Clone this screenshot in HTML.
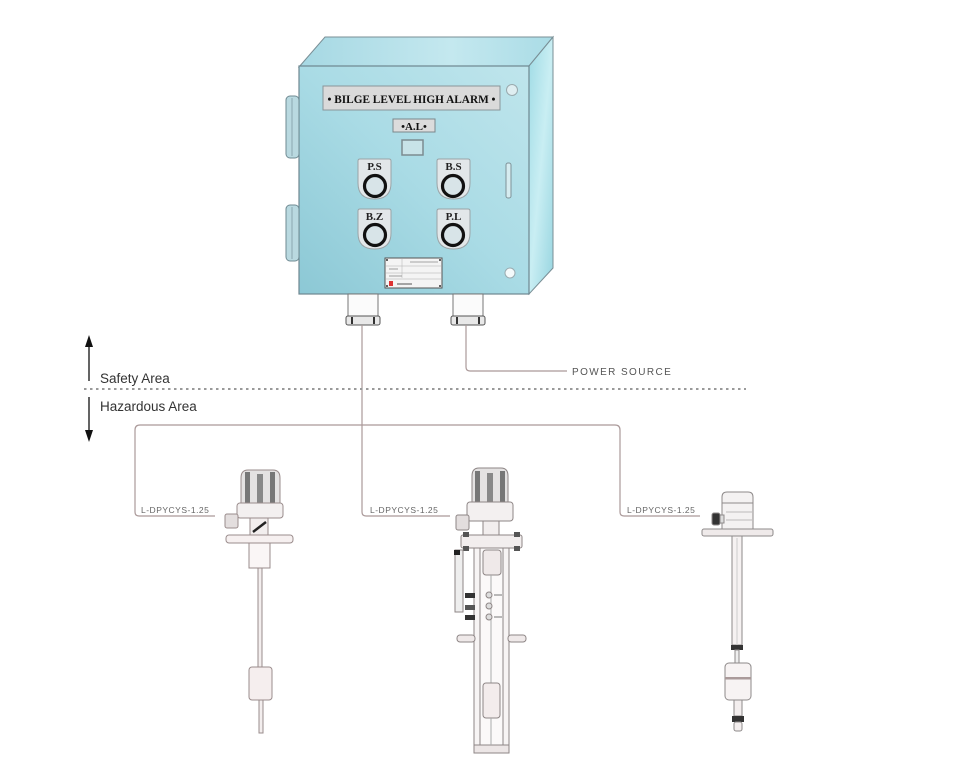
<!DOCTYPE html>
<html>
<head>
<meta charset="utf-8">
<style>
html,body{margin:0;padding:0;background:#fff;}
svg{display:block;}
</style>
</head>
<body>
<svg width="956" height="772" viewBox="0 0 956 772" xmlns="http://www.w3.org/2000/svg">
<defs>
<linearGradient id="front" x1="0" y1="1" x2="1" y2="0">
<stop offset="0" stop-color="#8cc8d5"/>
<stop offset="0.5" stop-color="#a9dbe5"/>
<stop offset="1" stop-color="#bfe5ec"/>
</linearGradient>
<linearGradient id="top" x1="0" y1="0" x2="1" y2="0">
<stop offset="0" stop-color="#a6d8e3"/>
<stop offset="0.6" stop-color="#c4e8ef"/>
<stop offset="1" stop-color="#aadce6"/>
</linearGradient>
<linearGradient id="side" x1="0" y1="0" x2="1" y2="1">
<stop offset="0" stop-color="#9fdbe5"/>
<stop offset="0.5" stop-color="#c9eef3"/>
<stop offset="1" stop-color="#97d5e0"/>
</linearGradient>
</defs>

<!-- enclosure box -->
<polygon points="299,67 325,37 553,37 529,66" fill="url(#top)" stroke="#7a8f96" stroke-width="1"/>
<polygon points="529,66 553,37 553,268 529,294" fill="url(#side)" stroke="#7a8f96" stroke-width="1"/>
<rect x="299" y="66" width="230" height="228" fill="url(#front)" stroke="#6e8790" stroke-width="1.2"/>

<!-- hinges -->
<rect x="286" y="96" width="13" height="62" rx="4" fill="#b9d9e0" stroke="#6f8a92"/>
<line x1="292" y1="98" x2="292" y2="156" stroke="#8aa8b0"/>
<rect x="286" y="205" width="13" height="56" rx="4" fill="#b9d9e0" stroke="#6f8a92"/>
<line x1="292" y1="207" x2="292" y2="259" stroke="#8aa8b0"/>

<!-- nameplate -->
<rect x="323" y="86" width="177" height="24" fill="#dadada" stroke="#8a9599" stroke-width="1"/>
<text x="411.5" y="103" text-anchor="middle" font-family="Liberation Serif, serif" font-weight="bold" font-size="12" fill="#111" textLength="168" lengthAdjust="spacingAndGlyphs">• BILGE LEVEL HIGH ALARM •</text>
<circle cx="512" cy="90" r="5.5" fill="#dfeef1" stroke="#99a9ad"/>

<!-- A.L plate -->
<rect x="393" y="119" width="42" height="13" fill="#dcdcdc" stroke="#7b878b"/>
<text x="414" y="130" text-anchor="middle" font-family="Liberation Serif, serif" font-weight="bold" font-size="11" fill="#111">•A.L•</text>
<rect x="402" y="140" width="21" height="15" fill="#c8e3e8" stroke="#7c8b90" stroke-width="1.5"/>

<!-- buttons -->
<g font-family="Liberation Serif, serif" font-weight="bold" font-size="11" fill="#222" text-anchor="middle">
<path d="M358,161 q0,-2 2,-2 h29 q2,0 2,2 v22 q0,16 -16.5,16 q-16.5,0 -16.5,-16 z" fill="#e2e7e9" stroke="#9aa3a6"/>
<text x="374.5" y="170">P.S</text>
<circle cx="375" cy="186" r="10.5" fill="#d8e4e8" stroke="#111" stroke-width="3.2"/>
<path d="M437,161 q0,-2 2,-2 h29 q2,0 2,2 v22 q0,16 -16.5,16 q-16.5,0 -16.5,-16 z" fill="#e2e7e9" stroke="#9aa3a6"/>
<text x="453.5" y="170">B.S</text>
<circle cx="453" cy="186" r="10.5" fill="#d8e4e8" stroke="#111" stroke-width="3.2"/>
<path d="M358,211 q0,-2 2,-2 h29 q2,0 2,2 v22 q0,16 -16.5,16 q-16.5,0 -16.5,-16 z" fill="#e2e7e9" stroke="#9aa3a6"/>
<text x="374.5" y="220">B.Z</text>
<circle cx="375" cy="235" r="10.5" fill="#d8e4e8" stroke="#111" stroke-width="3.2"/>
<path d="M437,211 q0,-2 2,-2 h29 q2,0 2,2 v22 q0,16 -16.5,16 q-16.5,0 -16.5,-16 z" fill="#e2e7e9" stroke="#9aa3a6"/>
<text x="453.5" y="220">P.L</text>
<circle cx="453" cy="235" r="10.5" fill="#d8e4e8" stroke="#111" stroke-width="3.2"/>
</g>

<!-- slot & small circle -->
<rect x="506" y="163" width="5" height="35" rx="2" fill="#d6ecf0" stroke="#7e9298"/>
<circle cx="510" cy="273" r="5" fill="#f4fafb" stroke="#9aabb0"/>

<!-- bottom data plate -->
<rect x="385" y="258" width="57" height="30" fill="#f4f4f4" stroke="#555" stroke-width="1"/>
<line x1="386" y1="266" x2="441" y2="266" stroke="#aaa" stroke-width="0.6"/>
<line x1="386" y1="273" x2="441" y2="273" stroke="#aaa" stroke-width="0.6"/>
<line x1="386" y1="279" x2="441" y2="279" stroke="#aaa" stroke-width="0.6"/>
<line x1="402" y1="259" x2="402" y2="278" stroke="#bbb" stroke-width="0.6"/>
<line x1="410" y1="262" x2="438" y2="262" stroke="#888" stroke-width="0.8"/>
<line x1="389" y1="269" x2="398" y2="269" stroke="#888" stroke-width="0.8"/>
<line x1="389" y1="276" x2="402" y2="276" stroke="#888" stroke-width="0.8"/>
<rect x="389" y="281" width="4" height="5" fill="#d33"/>
<line x1="397" y1="284" x2="412" y2="284" stroke="#555" stroke-width="1"/>
<circle cx="387" cy="260" r="1" fill="#333"/><circle cx="440" cy="260" r="1" fill="#333"/>
<circle cx="387" cy="286" r="1" fill="#333"/><circle cx="440" cy="286" r="1" fill="#333"/>

<!-- cable glands -->
<rect x="348" y="294" width="30" height="22" fill="#fbfbfb" stroke="#777"/>
<rect x="346" y="316" width="34" height="9" rx="2" fill="#e8e8e8" stroke="#555"/>
<line x1="352" y1="317" x2="352" y2="324" stroke="#333" stroke-width="2"/>
<line x1="374" y1="317" x2="374" y2="324" stroke="#333" stroke-width="2"/>
<rect x="453" y="294" width="30" height="22" fill="#fbfbfb" stroke="#777"/>
<rect x="451" y="316" width="34" height="9" rx="2" fill="#e8e8e8" stroke="#555"/>
<line x1="457" y1="317" x2="457" y2="324" stroke="#333" stroke-width="2"/>
<line x1="479" y1="317" x2="479" y2="324" stroke="#333" stroke-width="2"/>

<!-- cables -->
<g fill="none" stroke="#a99" stroke-width="1.2">
<path d="M362,325 V512 Q362,516 366,516 H450"/>
<path d="M466,325 V367 Q466,371 470,371 H567"/>
<path d="M215,516 H139 Q135,516 135,512 V430 Q135,425 140,425 H615 Q620,425 620,430 V512 Q620,516 624,516 H700"/>
</g>

<text x="572" y="375" font-family="Liberation Sans, sans-serif" font-size="10" fill="#555" letter-spacing="1.4">POWER SOURCE</text>
<g font-family="Liberation Sans, sans-serif" font-size="8.5" fill="#666" letter-spacing="0.5">
<text x="141" y="513">L-DPYCYS-1.25</text>
<text x="370" y="513">L-DPYCYS-1.25</text>
<text x="627" y="513">L-DPYCYS-1.25</text>
</g>

<!-- area divider -->
<line x1="84" y1="389" x2="746" y2="389" stroke="#9a9a9a" stroke-width="2" stroke-dasharray="2.5,3.5"/>
<line x1="89" y1="345" x2="89" y2="381" stroke="#111" stroke-width="1.3"/>
<polygon points="85,347 89,335 93,347" fill="#111"/>
<line x1="89" y1="397" x2="89" y2="432" stroke="#111" stroke-width="1.3"/>
<polygon points="85,430 89,442 93,430" fill="#111"/>
<text x="100" y="383" font-family="Liberation Sans, sans-serif" font-size="13.5" fill="#333">Safety Area</text>
<text x="100" y="411" font-family="Liberation Sans, sans-serif" font-size="13.5" fill="#333">Hazardous Area</text>

<!-- sensor 1 -->
<g stroke="#9a8c8c" stroke-width="1">
<path d="M241,505 V478 Q241,470 248,470 H273 Q280,470 280,478 V505 Z" fill="#e4e2e2"/>
<rect x="245" y="472" width="5" height="32" fill="#777" stroke="none"/>
<rect x="257" y="474" width="6" height="30" fill="#888" stroke="none"/>
<rect x="270" y="472" width="5" height="32" fill="#777" stroke="none"/>
<rect x="237" y="503" width="46" height="15" rx="3" fill="#f3f0f0"/>
<rect x="225" y="514" width="13" height="14" rx="2" fill="#e3dede"/>
<rect x="250" y="518" width="18" height="17" fill="#f2eeee"/>
<path d="M253,532 L266,522" stroke="#222" stroke-width="2.5"/>
<rect x="226" y="535" width="67" height="8" rx="3" fill="#f6f0f0"/>
<rect x="249" y="543" width="21" height="25" fill="#faf6f6"/>
<rect x="258" y="568" width="4" height="99" fill="#f3eeee"/>
<rect x="249" y="667" width="23" height="33" rx="3" fill="#f5eeee"/>
<rect x="259" y="700" width="4" height="33" fill="#f3eeee"/>
</g>

<!-- sensor 2 -->
<g stroke="#8e8686" stroke-width="1">
<path d="M472,503 V476 Q472,468 479,468 H501 Q508,468 508,476 V503 Z" fill="#e4e2e2"/>
<rect x="475" y="471" width="5" height="31" fill="#777" stroke="none"/>
<rect x="487" y="473" width="6" height="29" fill="#888" stroke="none"/>
<rect x="500" y="471" width="5" height="31" fill="#777" stroke="none"/>
<rect x="467" y="502" width="46" height="19" rx="3" fill="#f3f0f0"/>
<rect x="456" y="515" width="13" height="15" rx="2" fill="#e3dede"/>
<rect x="483" y="521" width="16" height="14" fill="#f2eeee"/>
<rect x="461" y="535" width="61" height="13" rx="2" fill="#f2eeee"/>
<rect x="463" y="532" width="6" height="5" fill="#555" stroke="none"/>
<rect x="514" y="532" width="6" height="5" fill="#555" stroke="none"/>
<rect x="463" y="546" width="6" height="5" fill="#555" stroke="none"/>
<rect x="514" y="546" width="6" height="5" fill="#555" stroke="none"/>
<rect x="474" y="548" width="35" height="204" fill="#f7f4f4"/>
<rect x="480" y="548" width="23" height="197" fill="#fbf9f9"/>
<rect x="474" y="745" width="35" height="8" fill="#ece6e6"/>
<rect x="483" y="550" width="18" height="25" rx="3" fill="#efe9e9"/>
<line x1="491" y1="575" x2="491" y2="683" stroke="#aaa"/>
<rect x="455" y="550" width="8" height="62" fill="#eee"/>
<rect x="454" y="550" width="6" height="5" fill="#222" stroke="none"/>
<rect x="465" y="593" width="10" height="5" fill="#333" stroke="none"/>
<rect x="465" y="605" width="10" height="5" fill="#555" stroke="none"/>
<rect x="465" y="615" width="10" height="5" fill="#333" stroke="none"/>
<circle cx="489" cy="595" r="3" fill="#ddd"/>
<circle cx="489" cy="606" r="3" fill="#ddd"/>
<circle cx="489" cy="617" r="3" fill="#ddd"/>
<line x1="494" y1="595" x2="502" y2="595" stroke="#777"/>
<line x1="494" y1="617" x2="502" y2="617" stroke="#777"/>
<rect x="457" y="635" width="18" height="7" rx="3" fill="#efe9e9"/>
<rect x="508" y="635" width="18" height="7" rx="3" fill="#efe9e9"/>
<rect x="483" y="683" width="17" height="35" rx="3" fill="#f3ecec"/>
<line x1="491" y1="718" x2="491" y2="745" stroke="#aaa"/>
</g>

<!-- sensor 3 -->
<g stroke="#8e8a8a" stroke-width="1">
<path d="M722,530 V497 Q722,492 727,492 H748 Q753,492 753,497 V530 Z" fill="#f4f2f2"/>
<line x1="722" y1="503" x2="753" y2="503"/>
<line x1="726" y1="512" x2="752" y2="512" stroke="#bbb"/>
<line x1="726" y1="520" x2="752" y2="520" stroke="#bbb"/>
<rect x="712" y="513" width="8" height="12" rx="2" fill="#333"/>
<rect x="720" y="515" width="4" height="8" fill="#ddd"/>
<rect x="702" y="529" width="71" height="7" rx="2" fill="#efeaea"/>
<rect x="732" y="536" width="10" height="109" fill="#f6f2f2"/>
<line x1="737" y1="538" x2="737" y2="645" stroke="#ccc"/>
<rect x="731" y="645" width="12" height="5" fill="#333" stroke="none"/>
<rect x="735" y="650" width="4" height="13" fill="#eee"/>
<rect x="725" y="663" width="26" height="37" rx="4" fill="#f7f3f3"/>
<rect x="725" y="677" width="26" height="2.5" fill="#aa9a9a" stroke="none"/>
<rect x="734" y="700" width="8" height="16" fill="#f3eeee"/>
<rect x="732" y="716" width="12" height="6" fill="#333" stroke="none"/>
<rect x="734" y="722" width="8" height="9" rx="2" fill="#f3eeee"/>
</g>
</svg>
</body>
</html>
